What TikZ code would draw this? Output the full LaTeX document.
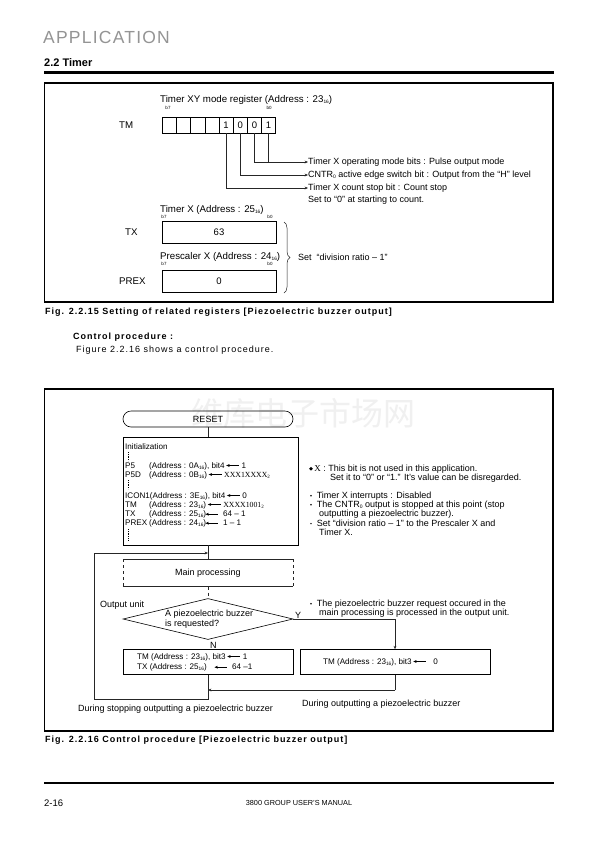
\documentclass[tikz,border=0pt]{standalone}
\usepackage{fontspec}
\setmainfont{Liberation Sans}
\newfontfamily\serifx{Liberation Serif}
\newfontfamily\cjkwm{Noto Sans CJK SC}
\newfontfamily\spaced[LetterSpace=11]{Liberation Sans}
\newfontfamily\hdrfont[LetterSpace=7]{Liberation Sans}
\usetikzlibrary{arrows.meta,shapes.geometric,decorations.pathreplacing}
\newcommand\hx{{\fontsize{4.8}{5}\selectfont\raisebox{-1.3pt}{16}}}
\newcommand\subtwo{{\fontsize{5}{5}\selectfont\raisebox{-1.3pt}{2}}}
\newcommand\subzero{{\fontsize{5}{5}\selectfont\raisebox{-1.3pt}{0}}}
\newcommand\larr{\tikz[x=1pt,y=1pt,baseline=-2.6pt]\draw[line width=.5pt,{Stealth[length=3.4pt,width=2.8pt]}-](0,0)--(13,0);}
\newcommand\bdot{\tikz[x=1pt,y=1pt,baseline=-2.6pt]\fill (0,0) circle (1.8pt);}
\newcommand\mdot{\tikz[x=1pt,y=1pt,baseline=-2.6pt]\fill (0,0) circle (0.8pt);}
\begin{document}
\begin{tikzpicture}[x=1pt,y=-1pt,
  t/.style={inner sep=0pt,anchor=west,font=\fontsize{9}{9.5}\selectfont},
  ti/.style={inner sep=0pt,anchor=west,font=\fontsize{8.1}{9.2}\selectfont},
  tr/.style={inner sep=0pt,anchor=west,font=\fontsize{9.7}{10}\selectfont},
  tiny/.style={inner sep=0pt,font=\fontsize{4.5}{5}\selectfont},
  thin/.style={line width=.5pt,draw=black!85},
  arr/.style={thin,-{Stealth[length=3.4pt,width=2.8pt]}},
  frame/.style={line width=1.4pt},
  cell/.style={draw,line width=.6pt,minimum width=14.17pt,minimum height=16pt,inner sep=0pt,font=\fontsize{9.5}{10}\selectfont},
  box/.style={draw,line width=.6pt,inner sep=0pt},
  vdots/.style={line width=.5pt,dash pattern=on .6pt off 1.2pt},
  capt/.style={anchor=west,inner sep=0pt,font=\spaced\bfseries\fontsize{9}{10}\selectfont},
]
\useasboundingbox (0,0) rectangle (595,841);
\fill[white] (0,0) rectangle (595,841);

% header
\node[anchor=west,inner sep=0pt,text=black!42,font=\hdrfont\fontsize{17.5}{18}\selectfont] (hdr) at (43,37) {APPLICATION};
\node[anchor=west,inner sep=0pt,font=\bfseries\fontsize{11}{12}\selectfont] (sec) at (44,63) {2.2 Timer};
\draw[line width=3pt] (44,72) -- (554,72);

% ---------- Fig 2.2.15
\draw[frame] (44.7,83) rectangle (553,302);
\node[tr] (tmt) at (160,100) {Timer XY mode register (Address : 23\hx)};
\node[tiny] (b7a) at (168,108) {b7};
\node[tiny] (b0a) at (269,108) {b0};
\node[tr] (tml) at (119,125) {TM};
\foreach \i/\v in {0/,1/,2/,3/,4/1,5/0,6/0,7/1}
  \node[cell] (c\i) at ({169.4+\i*14.17},125) {\v};

\node[t] (l1) at (308,162) {Timer X operating mode bits : Pulse output mode};
\node[t] (l2) at (308,175) {CNTR\subzero{} active edge switch bit : Output from the “H” level};
\node[t] (l3) at (308,188) {Timer X count stop bit : Count stop};
\node[t] (l4) at (308,200) {Set to “0” at starting to count.};
\draw[thin] (c7.south) -- (c7.south |- l1.west);
\draw[arr] (c6.south) |- (l1.west);
\draw[arr] (c5.south) |- (l2.west);
\draw[arr] (c4.south) |- (l3.west);

\node[tr] (txt) at (160,210) {Timer X (Address : 25\hx)};
\node[tiny] (b7b) at (164,217) {b7};
\node[tiny] (b0b) at (270,217) {b0};
\node[tr] (txl) at (125,232) {TX};
\node[box,minimum width=114pt,minimum height=22pt,font=\fontsize{9.5}{10}\selectfont] (txb) at (219,232) {63};

\node[tr] (pxt) at (160,257) {Prescaler X (Address : 24\hx)};
\node[tiny] (b7c) at (164,264) {b7};
\node[tiny] (b0c) at (270,264) {b0};
\node[tr] (pxl) at (119,281) {PREX};
\node[box,minimum width=114pt,minimum height=22pt,font=\fontsize{9.5}{10}\selectfont] (pxb) at (219,281) {0};

\draw[thin,decorate,decoration={brace,amplitude=6pt}] (284,222) -- (284,293);
\node[t] (divr) at (298,257) {Set \ “division ratio -- 1”};

\node[capt] (cap1) at (45,312) {Fig. 2.2.15 Setting of related registers [Piezoelectric buzzer output]};

\node[anchor=west,inner sep=0pt,font=\spaced\bfseries\fontsize{9}{10}\selectfont] (cph) at (73,337) {Control procedure :};
\node[anchor=west,inner sep=0pt,font=\spaced\fontsize{9}{10}\selectfont] (cpt) at (76,350) {Figure 2.2.16 shows a control procedure.};

% ---------- Fig 2.2.16
\draw[frame] (44.7,389) rectangle (553,731);
\node[text=black!6,font=\cjkwm\fontsize{32}{32}\selectfont,inner sep=0pt] (wm) at (303,413) {维库电子市场网};

\node[draw,line width=.6pt,rounded corners=8pt,minimum width=170pt,minimum height=16pt,inner sep=0pt,font=\fontsize{9}{9}\selectfont] (reset) at (208,419) {RESET};
\node[box,minimum width=175pt,minimum height=108pt] (init) at (210.5,491) {};
\draw[thin] (reset.south) -- (reset.south |- init.north);

\node[ti] (ini) at (125,447) {Initialization};
\draw[vdots] (128,452) -- (128,461);
\node[ti] (p5) at (125,466) {P5};
\node[ti] (p5a) at (149,466) {(Address : 0A\hx), bit4\,\larr\ 1};
\node[ti] (p5d) at (125,475) {P5D};
\node[ti] (p5da) at (149,475) {(Address : 0B\hx)\,\larr\ {\serifx\fontsize{7.8}{9}\selectfont XXX1XXXX\subtwo}};
\draw[vdots] (128,480) -- (128,489);
\node[ti] (ic) at (125,496) {ICON1(Address : 3E\hx), bit4\,\larr\ 0};
\node[ti] (tm) at (125,505) {TM};
\node[ti] (tma) at (149,505) {(Address : 23\hx)\,\larr\ {\serifx\fontsize{7.8}{9}\selectfont XXXX1001\subtwo}};
\node[ti] (tx) at (125,514) {TX};
\node[ti] (txa) at (149,514) {(Address : 25\hx)};
\node[ti] (txv) at (205,514) {\larr\ \ 64 -- 1};
\node[ti] (px) at (125,523) {PREX};
\node[ti] (pxa) at (149,523) {(Address : 24\hx)};
\node[ti] (pxv) at (205,523) {\larr\ \ 1 -- 1};
\draw[vdots] (128,529) -- (128,540);

\node[t] (nx1) at (309,469) {\bdot\,{\serifx X} : This bit is not used in this application.};
\node[t] (nx2) at (330,478) {Set it to “0” or “1.” It’s value can be disregarded.};
\node[t] (nb1) at (310,496) {\mdot\ \ Timer X interrupts : Disabled};
\node[t] (nb2) at (310,505) {\mdot\ \ The CNTR\subzero{} output is stopped at this point (stop};
\node[t] (nb2b) at (319,514) {outputting a piezoelectric buzzer).};
\node[t] (nb3) at (310,523) {\mdot\ \ Set “division ratio -- 1” to the Prescaler X and};
\node[t] (nb3b) at (319,532) {Timer X.};

\node[minimum width=170pt,minimum height=27pt,inner sep=0pt,font=\fontsize{9}{9}\selectfont] (mainp) at (208,573) {Main processing};
\draw[thin] (mainp.north west) -- (mainp.north east);
\draw[thin] (mainp.south west) -- (mainp.south east);
\draw[thin,dashed] (mainp.north west) -- (mainp.south west);
\draw[thin,dashed] (mainp.north east) -- (mainp.south east);
\draw[thin] (mainp.north |- init.south) -- (mainp.north);

\node[diamond,draw,line width=.6pt,minimum width=170pt,minimum height=41pt,inner sep=0pt] (dia) at (208,619) {};
\node[t,align=left] (diat) at (165,619) {A piezoelectric buzzer\\is requested?};
\draw[thin,dashed] (mainp.south) -- (dia.north);
\node[t] (outu) at (100,605) {Output unit};
\node[t] (ylab) at (295,615) {Y};
\node[t] (nlab) at (210,645) {N};

\node[t] (ny1) at (310,604) {\mdot\ \ The piezoelectric buzzer request occured in the};
\node[t] (ny2) at (319,613) {main processing is processed in the output unit.};

\node[box,minimum width=170pt,minimum height=25pt] (nbox) at (208,662) {};
\node[ti] (nb1t) at (137,657) {TM (Address : 23\hx), bit3\,\larr\ 1};
\node[ti] (nb2t) at (137,667) {TX (Address : 25\hx)};
\node[ti] (nb2v) at (214,667) {\larr\ \ 64 --1};

\node[box,minimum width=190pt,minimum height=25pt] (ybox) at (395,662) {};
\node[ti] (ybt) at (323,662) {TM (Address : 23\hx), bit3\,\larr\ \ \ 0};
\draw[arr] (dia.east) -| (ybox.north);

\coordinate (r1) at (395,690);
\coordinate (r2) at (208,690);
\draw[thin] (ybox.south) -- (r1);
\draw[arr] (r1) -- (r2);
\coordinate (q1) at (208,699);
\coordinate (q2) at (94,699);
\coordinate (q3) at (94,553);
\coordinate (q4) at (208,553);
\draw[thin] (nbox.south) -- (q1) -- (q2) -- (q3);
\draw[arr] (q3) -- (q4);

\node[t] (dsl) at (78,709) {During stopping outputting a piezoelectric buzzer};
\node[t] (dol) at (302,704) {During outputting a piezoelectric buzzer};

\node[capt] (cap2) at (45,740) {Fig. 2.2.16 Control procedure [Piezoelectric buzzer output]};

% footer
\draw[line width=2pt] (44,783) -- (554,783);
\node[anchor=west,inner sep=0pt,font=\fontsize{9.5}{10}\selectfont] (pg) at (44,803) {2-16};
\node[inner sep=0pt,font=\fontsize{7.3}{8}\selectfont] (man) at (299,803) {3800 GROUP USER’S MANUAL};
\end{tikzpicture}
\end{document}
